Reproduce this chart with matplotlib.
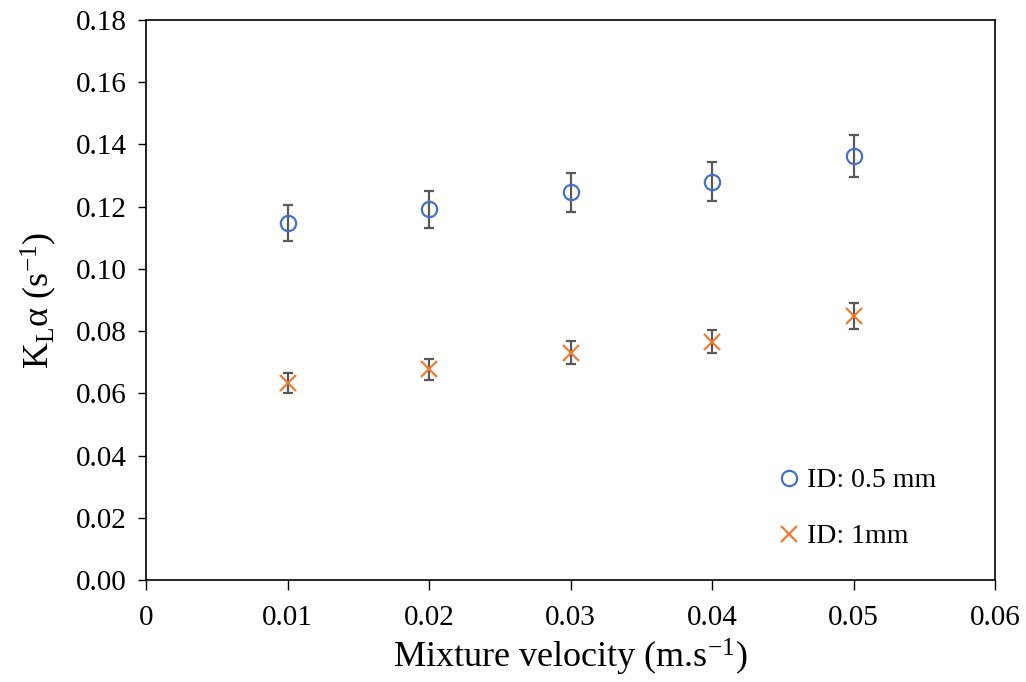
import numpy as np
from matplotlib import pyplot as plt

# Data
velocity = [0.01, 0.02, 0.03, 0.04, 0.05]
kla_05mm = [0.1147, 0.1191, 0.1246, 0.1280, 0.1363]
err_05mm = [0.0057, 0.0060, 0.0063, 0.0063, 0.0068]
kla_1mm = [0.0632, 0.0677, 0.0731, 0.0766, 0.0849]
err_1mm = [0.0032, 0.0033, 0.0037, 0.0038, 0.0042]

plt.rcParams["font.family"] = ["Liberation Serif", "DejaVu Serif"]
plt.rcParams["mathtext.fontset"] = "custom"
plt.rcParams["mathtext.rm"] = "Liberation Serif"
plt.rcParams["mathtext.it"] = "Liberation Serif:italic"

fig = plt.figure(figsize=(10.26, 6.82), dpi=100)
ax = fig.add_axes([0.1423, 0.1496, 0.8275, 0.8211])

ax.errorbar(velocity, kla_05mm, yerr=err_05mm, fmt="none", ecolor="#595959",
            elinewidth=1.6, capsize=3.8, capthick=1.6, zorder=2)
ax.errorbar(velocity, kla_1mm, yerr=err_1mm, fmt="none", ecolor="#595959",
            elinewidth=1.6, capsize=3.8, capthick=1.6, zorder=2)
ax.plot(velocity, kla_05mm, "o", ms=11, mfc="none", mec="#4472C4", mew=1.6,
        ls="none", label="ID: 0.5 mm", zorder=3)
ax.plot(velocity, kla_1mm, "x", ms=11, mec="#ED7D31", mew=1.6,
        ls="none", label="ID: 1mm", zorder=3)

ax.set_xlim(0, 0.06)
ax.set_ylim(0, 0.18)
ax.set_xticks(np.arange(0, 0.061, 0.01))
ax.set_xticklabels(["0", "0.01", "0.02", "0.03", "0.04", "0.05", "0.06"])
ax.set_yticks(np.arange(0, 0.181, 0.02))
ax.set_yticklabels([f"{v:.2f}" for v in np.arange(0, 0.181, 0.02)])
ax.tick_params(axis="y", labelsize=21, direction="out", length=6, width=1, pad=8)
ax.tick_params(axis="x", labelsize=21, direction="out", length=7, width=1, pad=11)

for s in ax.spines.values():
    s.set_color("black")
    s.set_linewidth(1.2)

ax.set_xlabel(r"Mixture velocity (m.s$^{\mathrm{-1}}$)", fontsize=26, labelpad=4)
ax.set_ylabel(r"K$_{\mathrm{L}}$α (s$^{\mathrm{-1}}$)", fontsize=26, labelpad=12)

ax.legend(loc="upper left", bbox_to_anchor=(0.716, 0.225), frameon=False,
          fontsize=20, handletextpad=-0.1, handlelength=1.5, labelspacing=1.1,
          markerscale=1.0, borderpad=0)

fig.savefig("out.png", dpi=100)
